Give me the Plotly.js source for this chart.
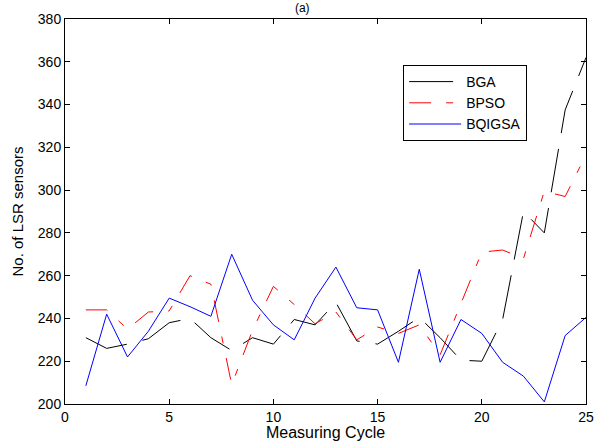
<!DOCTYPE html>
<html>
<head>
<meta charset="utf-8">
<script src="https://cdn.plot.ly/plotly-3.0.1.min.js"></script>
<style>
  html, body { margin: 0; padding: 0; background: #fff; }
  #chart { width: 595px; height: 441px; }
</style>
</head>
<body>
<div id="chart"></div>
<script>
// Measuring cycles
const cycles = [1, 2, 3, 4, 5, 6, 7, 8, 9, 10, 11, 12, 13, 14, 15, 16, 17, 18, 19, 20, 21, 22, 23, 24, 25];

// Series values (No. of LSR sensors)
const bga = [231, 226, 228, 230.5, 238, 240, 231, 225, 231, 228, 239.5, 237, 247.5, 229.5, 228, 234, 240.5, 231, 220.5, 220, 239.5, 290, 280, 337.5, 362];
const bpso = [244, 244, 235, 243, 243.5, 260, 256, 209, 234.5, 255, 246.5, 237.5, 243, 230, 236, 233, 237, 223, 247, 271, 272, 268, 299.5, 297, 316.5];
const bqigsa = [208.5, 242, 222, 234, 249.5, 245.5, 241, 270, 248.5, 237, 230, 249.5, 264, 245, 244, 219.5, 263, 219.5, 239.5, 233, 219.5, 213, 201, 232, 240.5];

// Tick values
const xTicks = [0, 5, 10, 15, 20, 25];
const yTicks = [200, 220, 240, 260, 280, 300, 320, 340, 360, 380];

const FONT = 'Arial, "Liberation Sans", Helvetica, sans-serif';

const traces = [
  {
    x: cycles, y: bga, name: 'BGA', type: 'scatter', mode: 'lines',
    line: { color: '#000000', width: 1, dash: '44px,16px' }
  },
  {
    x: cycles, y: bpso, name: 'BPSO', type: 'scatter', mode: 'lines',
    line: { color: '#ff0000', width: 1, dash: '22px,15px,7px,15px' }
  },
  {
    x: cycles, y: bqigsa, name: 'BQIGSA', type: 'scatter', mode: 'lines',
    line: { color: '#0000ff', width: 1 }
  }
];

const layout = {
  width: 595,
  height: 441,
  margin: { l: 65, r: 9, t: 19, b: 37, pad: 0 },
  paper_bgcolor: '#ffffff',
  plot_bgcolor: '#ffffff',
  font: { family: FONT, size: 14, color: '#000000' },
  title: {
    text: '(a)',
    font: { family: FONT, size: 12, color: '#000000' },
    xref: 'container', yref: 'container',
    x: 0.508, xanchor: 'center',
    y: 1.0, yanchor: 'top',
    pad: { t: 4 }
  },
  xaxis: {
    range: [0, 25],
    tickvals: xTicks,
    ticktext: xTicks.map(String),
    ticks: 'inside', ticklen: 5, tickwidth: 1, tickcolor: '#000000',
    showline: true, linecolor: '#000000', linewidth: 1, mirror: 'ticks',
    showgrid: false, zeroline: false,
    tickfont: { family: FONT, size: 14, color: '#000000' },
    title: {
      text: 'Measuring Cycle',
      font: { family: FONT, size: 16, color: '#000000' },
      standoff: 6
    },
    automargin: false
  },
  yaxis: {
    range: [200, 380],
    tickvals: yTicks,
    ticktext: yTicks.map(String),
    ticks: 'inside', ticklen: 5, tickwidth: 1, tickcolor: '#000000',
    showline: true, linecolor: '#000000', linewidth: 1, mirror: 'ticks',
    showgrid: false, zeroline: false,
    tickfont: { family: FONT, size: 14, color: '#000000' },
    title: {
      text: 'No. of LSR sensors',
      font: { family: FONT, size: 15, color: '#000000' },
      standoff: 10
    },
    automargin: false
  },
  showlegend: true,
  legend: {
    x: 0.649, y: 0.8805, xanchor: 'left', yanchor: 'top',
    bgcolor: '#ffffff', bordercolor: '#000000', borderwidth: 1,
    font: { family: FONT, size: 14, color: '#000000' },
    itemwidth: 52,
    tracegroupgap: 0
  }
};

Plotly.newPlot('chart', traces, layout, { staticPlot: true, displayModeBar: false });
</script>
</body>
</html>
